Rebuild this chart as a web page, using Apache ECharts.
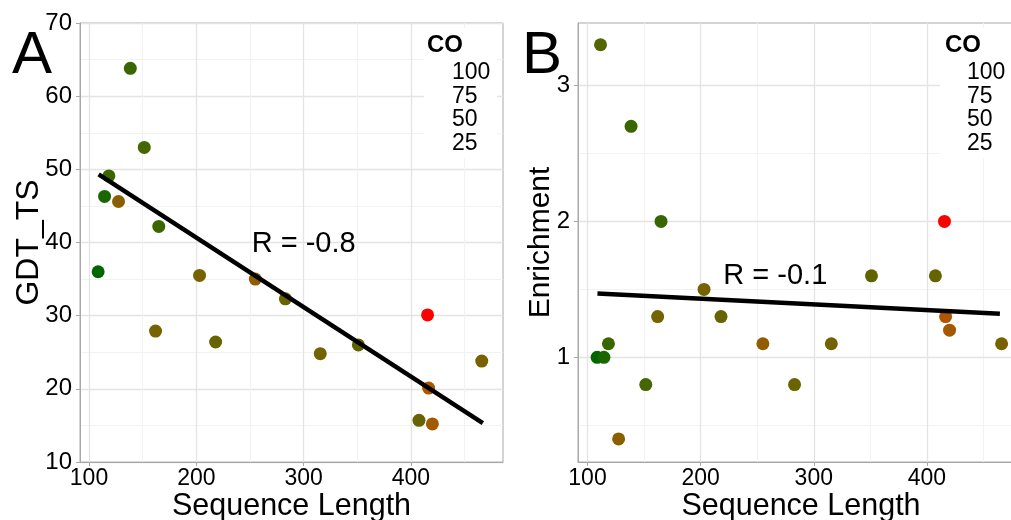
<!DOCTYPE html>
<html><head><meta charset="utf-8">
<script src="https://cdn.jsdelivr.net/npm/echarts@6/dist/echarts.min.js"></script>
<style>html,body{margin:0;padding:0;background:#fff}#c{width:1011px;height:520px}</style>
</head><body><div id="c"></div>
<script>
// ---- data ----
const seqLen       = [108.5, 111.5, 114.5, 118.5, 127.5, 138.5, 151.5, 162, 165, 203, 218, 255, 283, 315.5, 351, 407.5, 415.5, 416.5, 420, 466];
const gdtTs        = [36.0, null, 46.3, 49.1, 45.6, 63.8, 53.0, 27.9, 42.2, 35.5, 26.4, 35.0, 32.3, 24.8, 26.0, 15.7, 30.1, 20.1, 15.2, 23.8];
const enrichment   = [1.0, 3.3, 1.0, 1.1, 0.4, 2.7, 0.8, 1.3, 2.0, 1.5, 1.3, 1.1, 0.8, 1.1, 1.6, 1.6, 2.0, 1.3, 1.2, 1.1];
const contactOrder = [20, 47, 28, 38, 72, 38, 42, 62, 38, 62, 54, 74, 56, 60, 52, 54, 110, 88, 82, 64];
const fitA = [[109, 49.3], [467, 15.3]];
const fitB = [[108.8, 1.47], [464.5, 1.32]];
const annA = [[300, 39.8, 'R = -0.8']];
const annB = [[266, 1.6, 'R = -0.1']];
const xTicks = [100, 200, 300, 400];
const xMinor = [150, 250, 350, 450];
const yTicksB = [1, 2, 3];
const yMinorB = [0.5, 1.5, 2.5];
const legendLabels = ['100', '75', '50', '25'];
const legendTitle = 'CO';

// ---- build ----
const FONT = '"Liberation Sans", Arial, sans-serif';
const ptsA = [], ptsB = [];
seqLen.forEach((x, i) => {
  if (gdtTs[i] != null) ptsA.push([x, gdtTs[i], contactOrder[i]]);
  ptsB.push([x, enrichment[i], contactOrder[i]]);
});
const MAJOR = {show: true, lineStyle: {color: '#e4e4e4', width: 1.3}};
const MINOR = {show: true, lineStyle: {color: '#f2f2f2', width: 1}};
const AXC = '#a8a8a8';
const XMIN = 91.6, XMAX = 485.8;

function mainX(grid) {
  return {type: 'value', gridIndex: grid, min: XMIN, max: XMAX, position: 'bottom',
    name: 'Sequence Length', nameLocation: 'middle', nameGap: 29, nameMoveOverlap: false,
    nameTextStyle: {fontSize: 30.5, fontFamily: FONT, color: '#000'},
    axisLine: {show: true, lineStyle: {color: AXC}},
    axisTick: {show: true, length: 4, lineStyle: {color: AXC}, customValues: xTicks},
    axisLabel: {customValues: xTicks, fontSize: 23, fontFamily: FONT, color: '#000', margin: 5},
    splitLine: MAJOR, z: 1};
}
function minorX(grid) {
  return {type: 'value', gridIndex: grid, min: XMIN, max: XMAX, position: 'top',
    axisLine: {show: false}, axisTick: {show: false, customValues: xMinor},
    axisLabel: {show: false, customValues: xMinor}, splitLine: MINOR, z: 0};
}
const chart = echarts.init(document.getElementById('c'));
const txt = (x, y, t, font) => ({type: 'text', x: x, y: y, z: 20,
  style: {text: t, font: font, fill: '#000', textVerticalAlign: 'middle'}});
const legendText = (x0, x1) => {
  const g = [txt(x0, 45, legendTitle, 'bold 24px ' + FONT)];
  legendLabels.forEach((t, i) => g.push(txt(x1, 73 + i * 23.5, t, '23px ' + FONT)));
  return g;
};
const GRIDBASE = {top: 23, height: 439, show: true, borderColor: AXC, borderWidth: 1,
  containLabel: false, outerBoundsMode: 'none'};
const annLabel = {show: true, position: 'inside', formatter: p => p.data[2], fontSize: 29, fontFamily: FONT, color: '#000'};
chart.setOption({
  animation: false,
  backgroundColor: '#fff',
  grid: [
    Object.assign({left: 80, width: 423}, GRIDBASE),
    Object.assign({left: 578, width: 446}, GRIDBASE)
  ],
  xAxis: [mainX(0), minorX(0), mainX(1), minorX(1)],
  yAxis: [
    {type: 'value', gridIndex: 0, min: 10, max: 70, interval: 10,
      name: 'GDT_TS', nameLocation: 'middle', nameGap: 35, nameMoveOverlap: false,
      nameTextStyle: {fontSize: 32, fontFamily: FONT, color: '#000'},
      axisLine: {show: true, lineStyle: {color: AXC}},
      axisTick: {show: true, length: 4, lineStyle: {color: AXC}},
      axisLabel: {fontSize: 24, fontFamily: FONT, color: '#000', margin: 8},
      splitLine: MAJOR, minorTick: {show: false, splitNumber: 2}, minorSplitLine: MINOR},
    {type: 'value', gridIndex: 1, min: 0.23, max: 3.46,
      name: 'Enrichment', nameLocation: 'middle', nameGap: 22, nameMoveOverlap: false,
      nameTextStyle: {fontSize: 30, fontFamily: FONT, color: '#000'},
      axisLine: {show: true, lineStyle: {color: AXC}},
      axisTick: {show: true, length: 4, lineStyle: {color: AXC}, customValues: yTicksB},
      axisLabel: {customValues: yTicksB, fontSize: 24, fontFamily: FONT, color: '#000', margin: 8},
      splitLine: MAJOR, z: 1},
    {type: 'value', gridIndex: 1, min: 0.23, max: 3.46, position: 'right',
      axisLine: {show: false}, axisTick: {show: false, customValues: yMinorB},
      axisLabel: {show: false, customValues: yMinorB}, splitLine: MINOR, z: 0}
  ],
  visualMap: {type: 'continuous', show: false, dimension: 2, min: 20, max: 110, seriesIndex: [0, 2],
    inRange: {color: ['#006600', '#3a6600', '#6a6400', '#8e5e00', '#b85400', '#ff0000']}},
  series: [
    {type: 'scatter', xAxisIndex: 0, yAxisIndex: 0, data: ptsA, symbolSize: 13, z: 3, itemStyle: {opacity: 1}},
    {type: 'line', xAxisIndex: 0, yAxisIndex: 0, data: fitA, showSymbol: false, symbol: 'none',
      lineStyle: {color: '#000', width: 4.5}, z: 4},
    {type: 'scatter', xAxisIndex: 2, yAxisIndex: 1, data: ptsB, symbolSize: 13, z: 3, itemStyle: {opacity: 1}},
    {type: 'line', xAxisIndex: 2, yAxisIndex: 1, data: fitB, showSymbol: false, symbol: 'none',
      lineStyle: {color: '#000', width: 4.5}, z: 4},
    {type: 'scatter', xAxisIndex: 0, yAxisIndex: 0, data: annA, symbolSize: 0, z: 5, silent: true,
      itemStyle: {opacity: 1}, label: annLabel},
    {type: 'scatter', xAxisIndex: 2, yAxisIndex: 1, data: annB, symbolSize: 0, z: 5, silent: true,
      itemStyle: {opacity: 1}, label: annLabel}
  ],
  graphic: [
    {type: 'rect', shape: {x: 424, y: 28, width: 73, height: 130}, style: {fill: '#fff'}, z: 10},
    {type: 'rect', shape: {x: 940, y: 28, width: 80, height: 130}, style: {fill: '#fff'}, z: 10}
  ].concat(legendText(427, 452), legendText(945, 967), [
    txt(12, 56, 'A', '60px ' + FONT),
    txt(522, 56, 'B', '60px ' + FONT)
  ])
});
</script></body></html>
